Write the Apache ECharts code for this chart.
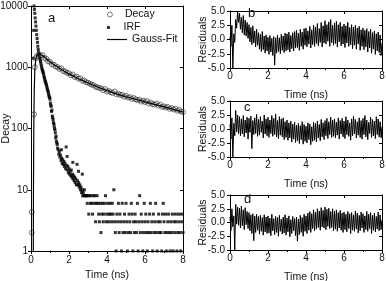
<!DOCTYPE html>
<html><head><meta charset="utf-8">
<script src="https://cdn.jsdelivr.net/npm/echarts@6/dist/echarts.min.js"></script>
<style>html,body{margin:0;padding:0;background:#fff}#c{width:386px;height:281px}</style>
</head><body><div id="c"></div>
<script>
// ---- Panel a: decay (open circles), time in ns / counts
const decayPoints = [[0.04,2],[0.04,4.3],[0.16,170],[0.2,1000],[0.25,1400],
[0.3,1500],[0.4,1620],[0.5,1560],[0.6,1580],[0.7,1420],[0.8,1380],[0.9,1250],[1.0,1230],[1.1,1120],[1.2,1100],
[1.3,1030],[1.4,1000],[1.5,940],[1.6,960],[1.7,870],[1.8,850],[1.9,810],[2.0,800],[2.1,740],[2.2,760],
[2.3,690],[2.4,700],[2.5,650],[2.6,660],[2.7,600],[2.8,610],[2.9,570],[3.0,560],[3.1,540],[3.2,520],
[3.3,510],[3.4,480],[3.5,470],[3.6,460],[3.7,450],[3.8,420],[3.9,440],[4.0,400],[4.1,410],[4.2,390],
[4.3,380],[4.4,400],[4.5,360],[4.6,370],[4.7,350],[4.8,355],[4.9,330],[5.0,340],[5.1,320],[5.2,325],
[5.3,305],[5.4,315],[5.5,300],[5.6,290],[5.7,295],[5.8,275],[5.9,285],[6.0,270],[6.1,280],[6.2,255],
[6.3,265],[6.4,250],[6.5,245],[6.6,255],[6.7,235],[6.8,245],[6.9,225],[7.0,230],[7.1,220],[7.2,225],
[7.3,210],[7.4,215],[7.5,205],[7.6,210],[7.7,195],[7.8,200],[7.9,190],[8.0,185]];

// ---- Panel a: IRF (filled squares), steep head and mid part
const irfHead = [[0.12,1400],[0.14,4000],[0.16,10000],[0.18,8800],[0.20,7600],[0.22,6400],[0.24,5500],[0.26,4700],
[0.28,4000],[0.30,3400],[0.32,2950],[0.34,2550],[0.36,2200],[0.38,1950],[0.40,1750],[0.42,1600],[0.44,1480],
[0.46,1420],[0.48,1350],[0.50,1250],[0.52,1170],[0.54,1080],[0.56,1010],[0.58,940],[0.60,900],[0.62,860],
[0.64,820],[0.66,780],[0.68,720],[0.70,680],[0.72,640],[0.74,600],[0.76,580],[0.78,550],[0.80,530],
[0.82,500],[0.84,470],[0.86,440],[0.88,420],[0.90,400],[0.92,370],[0.94,350],[0.96,330],[0.98,320],
[1.00,300],[1.02,260],[1.04,240],[1.06,230],[1.08,190],[1.10,200],[1.12,160],[1.14,150],[1.16,140],
[1.18,125],[1.20,120],[1.22,110],[1.24,100],[1.26,95],[1.28,85],[1.30,70],[1.32,75],[1.34,62],[1.36,58],
[1.38,55],[1.40,48],[1.43,45],[1.46,38],[1.49,42],[1.52,34],[1.55,37],[1.58,30],[1.60,45],[1.61,33],[1.64,27],
[1.67,31],[1.70,26],[1.73,29],[1.76,24],[1.79,27],[1.82,22],[1.85,50],[1.88,25],[1.90,35],[1.91,21],[1.94,24],
[1.97,19],[2.00,22],[2.03,18],[2.06,20],[2.09,17],[2.12,21],[2.15,16],[2.18,18],[2.20,28],[2.21,15],[2.24,17],
[2.27,14],[2.30,16],[2.33,13],[2.36,15],[2.39,12],[2.42,26],[2.45,14],[2.48,12],[2.50,20],[2.51,13],[2.54,11],
[2.57,12],[2.60,10],[2.63,11],[2.66,9],[2.69,10],[2.70,18],[2.72,8],[2.75,9],[2.78,8],[2.81,10],[2.84,8],[2.87,8],[2.90,8]];
// IRF tail counts, channels evenly spaced from 2.92 ns to 8.00 ns (null = zero counts)
const irfTailCounts = [8,6,8,4,8,6,8,6,4,8,6,8,3,6,8,
6,4,3,6,2,4,6,3,4,6,8,3,4,6,3,4,6,4,3,6,4,10,3,
2,1,4,3,6,2,4,3,1,6,2,3,4,2,6,3,1,2,4,3,2,6,4,1,3,2,4,3,2,6,1,3,8,
2,4,3,1,2,6,3,4,2,1,3,2,4,6,2,3,1,4,2,3,6,2,1,3,4,2,3,2,1,4,6,3,2,4,1,2,3,4,2,1,3,2,4,1,3,2,4,3,1,2,4,3,2,1,4,3,2];

// ---- Panel a: Gauss fit curve
const fitPoints = [[0.12,1],[0.125,3],[0.13,10],[0.14,40],[0.15,120],[0.17,400],[0.2,900],[0.25,1350],[0.3,1550],
[0.38,1640],[0.45,1650],[0.5,1620],[0.6,1560],[0.8,1380],[1.0,1220],[1.25,1080],[1.5,960],[1.75,860],[2.0,780],
[2.5,650],[3.0,555],[3.5,475],[4.0,415],[4.5,368],[5.0,330],[5.5,300],[6.0,272],[6.5,248],[7.0,226],[7.5,205],[8.0,185]];

// ---- Panels b, c, d: residuals, channels evenly spaced from 0 to 8 ns
const resB = [0.5,-1.2,2.5,-5.0,1.0,-0.5,3.5,2.0,4.9,3.0,
4.6,1.8,3.9,1.2,4.2,0.8,3.4,0.6,3.0,0.2,
2.6,-0.4,2.1,-0.9,2.4,-0.6,1.5,-1.3,1.8,-1.0,
1.2,-1.7,0.9,-2.1,1.4,-1.8,0.6,-2.4,0.8,-2.0,
0.4,-2.6,0.7,-2.2,0.2,-2.8,0.5,-4.5,0.3,-2.4,
0.8,-2.1,0.3,-2.5,0.9,-1.9,0.6,-2.3,1.1,-2.0,
1.0,-1.8,1.3,-2.2,0.7,-1.6,1.2,-2.0,1.4,-1.5,
1.6,-1.4,1.1,-1.9,1.8,-1.2,1.3,-1.7,1.9,-1.0,
2.0,-1.3,1.5,-0.8,2.3,-1.5,1.7,-0.9,2.5,-1.2,
2.2,-0.7,2.8,-1.1,1.9,-0.5,3.0,-1.3,2.4,-0.6,
3.3,-0.8,2.6,-0.3,3.1,-1.2,3.5,-0.6,2.5,-1.0,
2.9,-0.7,3.2,-1.3,2.6,-0.4,3.0,-1.1,2.3,-0.8,
2.7,-1.4,2.4,-0.6,3.0,-1.2,2.1,-0.9,2.6,-1.6,
2.2,-1.0,2.5,-1.7,2.0,-0.8,2.3,-1.9,1.7,-1.2,
2.0,-1.8,1.6,-1.3,1.9,-2.2,1.4,-1.5,1.8,-2.4,
1.2,-1.7,1.5,-2.6,1.0,-2.0,1.3,-2.3,0.8,-2.8,
-0.6];
const resC = [0.8,-1.8,2.0,-5.0,1.0,-1.2,3.3,-0.5,2.5,-0.8,
2.2,-1.2,1.8,-0.9,2.4,-1.4,1.6,-0.7,2.1,-1.8,
1.9,-0.6,2.3,-3.5,1.5,-1.0,2.0,-0.8,2.6,-1.3,
1.7,-1.1,2.2,-0.6,1.4,-1.6,2.5,-0.9,1.8,-1.2,
2.1,-1.5,1.6,-0.8,2.4,-1.3,1.9,-1.0,2.7,-1.4,
1.5,-1.7,2.2,-1.1,1.8,-1.4,2.0,-1.9,1.3,-1.5,
1.6,-2.0,1.1,-1.6,1.4,-2.3,0.9,-1.8,1.2,-2.4,
0.7,-2.1,1.0,-2.6,0.6,-1.9,1.3,-2.7,0.8,-2.2,
0.5,-2.5,1.1,-1.9,0.9,-2.8,0.4,-2.2,1.2,-2.0,
1.0,-2.3,1.4,-1.6,0.8,-2.1,1.7,-1.4,1.1,-1.9,
1.5,-1.2,1.9,-1.7,1.3,-1.0,2.1,-1.5,1.6,-1.3,
1.8,-1.6,1.2,-1.1,2.0,-1.8,1.5,-0.9,1.9,-1.4,
1.4,-1.7,2.2,-1.0,1.6,-1.3,1.1,-2.0,1.8,-1.2,
2.3,-0.9,1.7,-1.6,1.3,-1.1,2.0,-1.5,1.5,-1.8,
1.9,-1.0,2.4,-1.4,1.6,-1.9,1.2,-0.8,2.1,-1.5,
1.7,-1.2,1.4,-1.7,2.2,-1.0,1.8,-1.4,1.3,-1.6,
0.4];
const resD = [1.0,-1.5,2.5,-0.8,1.2,-5.0,3.3,-0.3,2.8,-0.5,
2.6,-1.0,3.0,-0.6,2.3,-1.3,2.7,-0.4,2.0,-1.1,
1.8,-1.5,1.4,-2.0,1.6,-3.3,1.2,-1.8,1.5,-1.4,
1.1,-2.1,1.3,-1.6,0.9,-2.3,1.4,-1.7,1.0,-2.0,
1.2,-1.9,0.8,-2.4,1.5,-1.5,0.7,-2.2,1.1,-1.8,
0.9,-2.5,1.3,-1.6,0.6,-2.1,1.0,-1.9,1.4,-2.3,
0.8,-1.7,1.2,-2.6,0.5,-2.0,1.1,-1.5,0.7,-2.4,
1.0,-3.4,0.6,-2.2,1.3,-1.8,0.9,-2.5,1.5,-1.6,
1.2,-2.0,1.7,-1.4,2.0,-1.8,1.6,-1.1,2.3,-1.5,
1.9,-1.2,2.5,-0.9,2.1,-1.4,2.7,-0.8,2.2,-1.0,
2.8,-1.3,2.4,-0.7,2.6,-1.1,2.0,-0.9,2.5,-1.5,
2.1,-1.2,2.3,-1.6,1.8,-1.0,2.2,-1.4,1.7,-1.8,
1.9,-1.3,1.5,-1.7,2.0,-1.1,1.6,-2.0,1.8,-1.4,
1.4,-1.6,2.1,-1.2,1.7,-1.9,1.3,-1.5,1.9,-1.0,
1.6,-1.8,1.2,-1.3,2.0,-1.6,1.5,-1.1,1.8,-2.0,
1.3,-1.4,1.7,-1.7,1.1,-1.2,1.9,-1.5,1.4,-1.3,
0.5];

const xTicks = ['0','2','4','6','8'];
const logTicks = ['1','10','100','1000','10000'];
const resTicks = ['-5.0','-2.5','0.0','2.5','5.0'];
const panelLetters = ['a','b','c','d'];

// ---- build
const FONT = '"Liberation Sans", Arial, sans-serif';
const irfTail = [];
irfTailCounts.forEach((v,i)=>{ const t = 2.92 + i*(8-2.92)/(irfTailCounts.length-1); if (v) irfTail.push([+t.toFixed(3), v]); });
const irfPoints = irfHead.concat(irfTail);
const toPairs = arr => arr.map((v,i)=>[i*8/(arr.length-1), v]);

const grids = [
  {left:31, top:6, width:152, height:245, outerBoundsMode:'none', containLabel:false},
  {left:230, top:11, width:152, height:57, outerBoundsMode:'none', containLabel:false},
  {left:230, top:101, width:152, height:56, outerBoundsMode:'none', containLabel:false},
  {left:230, top:195, width:152, height:55, outerBoundsMode:'none', containLabel:false}
];
const lineStyle = {color:'#000', width:1};
const lbl = {color:'#111', fontSize:10, fontFamily:FONT};
const nameTs = {color:'#111', fontSize:10.5, fontFamily:FONT};
const xAxes = [], yAxes = [];
grids.forEach((g,i)=>{
  xAxes.push({type:'value', gridIndex:i, min:0, max:8, interval:2,
    axisLine:{onZero:false, lineStyle}, axisTick:{length:3, lineStyle},
    minorTick:{show:true, splitNumber:2, length:2, lineStyle},
    axisLabel:Object.assign({margin:i===0?4:3, formatter:v=>xTicks[v/2]}, lbl),
    splitLine:{show:false},
    name:'Time (ns)', nameLocation:'middle', nameGap:i===0?19:22, nameMoveOverlap:false,
    nameTextStyle:nameTs});
  xAxes.push({type:'value', gridIndex:i, min:0, max:8, interval:2, position:'top',
    axisLine:{onZero:false, lineStyle}, axisTick:{length:3, inside:true, lineStyle},
    axisLabel:{show:false}, splitLine:{show:false}});
  if (i===0) {
    yAxes.push({type:'log', logBase:10, gridIndex:0, min:1, max:10000,
      axisLine:{lineStyle}, axisTick:{length:3, lineStyle},
      axisLabel:Object.assign({margin:3, formatter:v=>logTicks[Math.round(Math.log10(v))]}, lbl),
      splitLine:{show:false},
      name:'Decay', nameLocation:'middle', nameGap:19, nameMoveOverlap:false,
      nameTextStyle:nameTs});
  } else {
    yAxes.push({type:'value', gridIndex:i, min:-5, max:5, interval:2.5,
      axisLine:{onZero:false, lineStyle}, axisTick:{length:3, lineStyle},
      axisLabel:Object.assign({margin:5, formatter:v=>resTicks[Math.round((v+5)/2.5)]}, lbl),
      splitLine:{show:false},
      name:'Residuals', nameLocation:'middle', nameGap:21, nameMoveOverlap:false,
      nameTextStyle:nameTs});
  }
  yAxes.push({type:i===0?'log':'value', gridIndex:i, min:i===0?1:-5, max:i===0?10000:5,
    interval:i===0?undefined:2.5, position:'right',
    axisLine:{onZero:false, lineStyle}, axisTick:{length:3, inside:true, lineStyle},
    axisLabel:{show:false}, splitLine:{show:false}});
});

const resLine = {color:'#000', width:1};
const series = [
  {name:'IRF', type:'scatter', xAxisIndex:0, yAxisIndex:0, data:irfPoints, symbol:'rect', symbolSize:3,
   itemStyle:{color:'#000'}, z:2},
  {name:'Decay', type:'scatter', xAxisIndex:0, yAxisIndex:0, data:decayPoints, symbol:'circle', symbolSize:5,
   itemStyle:{color:'rgba(255,255,255,0)', borderColor:'#333', borderWidth:0.8}, z:3},
  {name:'Gauss-Fit', type:'line', xAxisIndex:0, yAxisIndex:0, data:fitPoints, symbol:'none',
   itemStyle:{color:'#000'}, lineStyle:{color:'#000', width:1.2}, z:4},
  {name:'b', type:'line', xAxisIndex:2, yAxisIndex:2, data:toPairs(resB), symbol:'none', lineStyle:resLine},
  {name:'c', type:'line', xAxisIndex:4, yAxisIndex:4, data:toPairs(resC), symbol:'none', lineStyle:resLine},
  {name:'d', type:'line', xAxisIndex:6, yAxisIndex:6, data:toPairs(resD), symbol:'none', lineStyle:resLine}
];

const legTxt = {color:'#111', fontSize:10.5, fontFamily:FONT};
const legends = [
  {data:[{name:'Decay', icon:'circle', itemStyle:{color:'rgba(255,255,255,0)', borderColor:'#333', borderWidth:0.8}}],
   left:107, top:9, itemWidth:20, itemHeight:5, textStyle:legTxt, selectedMode:false, padding:0},
  {data:[{name:'IRF', icon:'path://M0,0L10,0L10,10L0,10Z', itemStyle:{color:'#000', borderWidth:0}}],
   left:107, top:22, itemWidth:20, itemHeight:3, symbolKeepAspect:true, textStyle:legTxt, selectedMode:false, padding:0},
  {data:[{name:'Gauss-Fit', icon:'rect', itemStyle:{color:'#000', borderWidth:0}}],
   left:107, top:34, itemWidth:20, itemHeight:1.2, symbolKeepAspect:false, textStyle:legTxt, selectedMode:false, padding:0}
];

const letterPos = [[52,20],[252,15],[248,109],[248,201]];
const graphic = panelLetters.map((t,i)=>({type:'text', left:letterPos[i][0]-4, top:letterPos[i][1]-8,
  style:{text:t, fill:'#111', font:'13px '+FONT}}));

const chart = echarts.init(document.getElementById('c'), null, {renderer:'canvas'});
chart.setOption({animation:false, backgroundColor:'#fff', grid:grids, xAxis:xAxes, yAxis:yAxes,
  series, legend:legends, graphic});
</script></body></html>
